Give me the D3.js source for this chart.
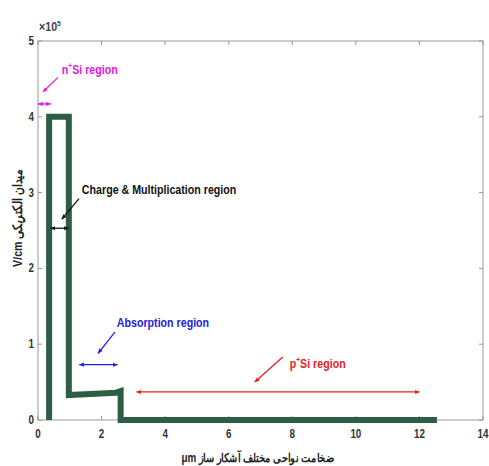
<!DOCTYPE html>
<html>
<head>
<meta charset="utf-8">
<script src="https://cdn.jsdelivr.net/npm/d3@7"></script>
<style>
  body { margin: 0; background: #fff; }
  text { font-family: "Liberation Sans", Arial, sans-serif; font-weight: bold; }
</style>
</head>
<body>
<svg class="chart"></svg>
<script>
/*Chart values (field in units of 1e5 V/cm)*/
const depth = [0.35, 0.35, 0.97, 0.97, 2.45, 2.6, 2.6, 12.55]
const field = [0, 4.0, 4.0, 0.33, 0.36, 0.38, 0, 0]
const xTicks = [0, 2, 4, 6, 8, 10, 12, 14]
const yTicks = [0, 1, 2, 3, 4, 5]

/*Region annotations: label, span, pointer*/
const regionNames = ["n", "Charge & Multiplication region", "Absorption region", "p"]
const regionSpans = [[0, 0.4, 4.17], [0.4, 0.97, 2.53], [1.3, 2.5, 0.73], [3.1, 12.0, 0.37]]
const regionLabelAt = [[0.75, 4.56], [1.38, 2.98], [2.48, 1.23], [7.92, 0.69]]
const regionPointers = [[0.63, 4.52, 0.16, 4.33], [1.29, 2.92, 0.75, 2.65], [2.42, 1.16, 1.89, 0.88], [7.7, 0.83, 6.82, 0.5]]
const regionColors = ["#e020e0", "#111", "#2222dd", "#e52222"]

const width = 489, height = 466
const margin = { top: 41, left: 38, right: 6, bottom: 46 }
const squeeze = 0.82

var chart = d3.select(".chart")
  .attr("width", width)
  .attr("height", height)

var x = d3.scaleLinear().domain([0, 14]).range([margin.left, width - margin.right])
var y = d3.scaleLinear().domain([0, 5]).range([height - margin.bottom, margin.top])

/*Place a text with a narrow look, like the condensed font of the original*/
function place (sel, px, py, rot) {
  return sel.attr("transform", "translate(" + px + "," + py + ")" + (rot ? " rotate(" + rot + ")" : "") + " scale(" + squeeze + ",1)")
}

/*Arrow heads*/
var defs = chart.append("defs")
regionColors.forEach((c, i) => {
  defs.append("marker")
      .attr("id", "head" + i)
      .attr("viewBox", "0 0 10 10")
      .attr("refX", 9).attr("refY", 5)
      .attr("markerWidth", 4).attr("markerHeight", 4)
      .attr("orient", "auto-start-reverse")
    .append("path")
      .attr("d", "M0,1 L10,5 L0,9 Z")
      .attr("fill", c)
})

/*Box and ticks, MATLAB style*/
chart.append("rect")
  .attr("x", x(0)).attr("y", y(5))
  .attr("width", x(14) - x(0)).attr("height", y(0) - y(5))
  .attr("fill", "none").attr("stroke", "#999").attr("stroke-width", 1)

var ax = chart.append("g").attr("stroke", "#999")
xTicks.forEach(t => {
  ax.append("line").attr("x1", x(t)).attr("x2", x(t)).attr("y1", y(0)).attr("y2", y(0) - 4)
  ax.append("line").attr("x1", x(t)).attr("x2", x(t)).attr("y1", y(5)).attr("y2", y(5) + 4)
})
yTicks.forEach(t => {
  ax.append("line").attr("x1", x(0)).attr("x2", x(0) + 4).attr("y1", y(t)).attr("y2", y(t))
  ax.append("line").attr("x1", x(14)).attr("x2", x(14) - 4).attr("y1", y(t)).attr("y2", y(t))
})

chart.append("g").selectAll("text")
  .data(xTicks).enter()
  .append("text")
    .each(function (d) { place(d3.select(this), x(d), y(0) + 18) })
    .attr("text-anchor", "middle")
    .style("font-size", "12px").attr("fill", "#333")
    .text(d => d)

chart.append("g").selectAll("text")
  .data(yTicks).enter()
  .append("text")
    .each(function (d) { place(d3.select(this), x(0) - 4, y(d) + 4) })
    .attr("text-anchor", "end")
    .style("font-size", "12px").attr("fill", "#333")
    .text(d => d)

var expo = place(chart.append("text"), x(0) + 1, y(5) - 10)
  .style("font-size", "13px").attr("fill", "#444")
expo.append("tspan").text("×10")
expo.append("tspan").attr("dy", -5).style("font-size", "8px").text("5")

/*Axis titles*/
place(chart.append("text"), 22, (y(0) + y(5)) / 2 - 12, -90)
  .attr("text-anchor", "middle")
  .style("font-size", "13px").attr("fill", "#222")
  .text("V/cm  میدان الکتریکی")

place(chart.append("text"), (x(0) + x(14)) / 2 - 3, height - 4)
  .attr("text-anchor", "middle").attr("direction", "rtl")
  .style("font-size", "12px").attr("fill", "#222")
  .text("ضخامت نواحی مختلف آشکار ساز μm")

/*Field profile*/
var line = d3.line().x(d => x(d[0])).y(d => y(d[1]))
chart.append("path")
  .datum(d3.zip(depth, field))
  .attr("d", line)
  .attr("fill", "none")
  .attr("stroke", "#2d5e45")
  .attr("stroke-width", 6)
  .attr("stroke-linejoin", "miter")

/*Region annotations*/
regionNames.forEach((name, i) => {
  var c = regionColors[i]
  var s = regionSpans[i]
  chart.append("line")
    .attr("x1", x(s[0])).attr("x2", x(s[1]))
    .attr("y1", y(s[2])).attr("y2", y(s[2]))
    .attr("stroke", c).attr("stroke-width", 1.3)
    .attr("marker-start", "url(#head" + i + ")")
    .attr("marker-end", "url(#head" + i + ")")
  var p = regionPointers[i]
  chart.append("line")
    .attr("x1", x(p[0])).attr("y1", y(p[1]))
    .attr("x2", x(p[2])).attr("y2", y(p[3]))
    .attr("stroke", c).attr("stroke-width", 1.3)
    .attr("marker-end", "url(#head" + i + ")")
  var t = place(chart.append("text"), x(regionLabelAt[i][0]), y(regionLabelAt[i][1]))
    .style("font-size", "13px").attr("fill", c)
  t.append("tspan").text(name)
  if (name.length == 1) {
    t.append("tspan").attr("dy", -6).style("font-size", "8px").text("+")
    t.append("tspan").attr("dy", 6).text("Si region")
  }
})
</script>
</body>
</html>
